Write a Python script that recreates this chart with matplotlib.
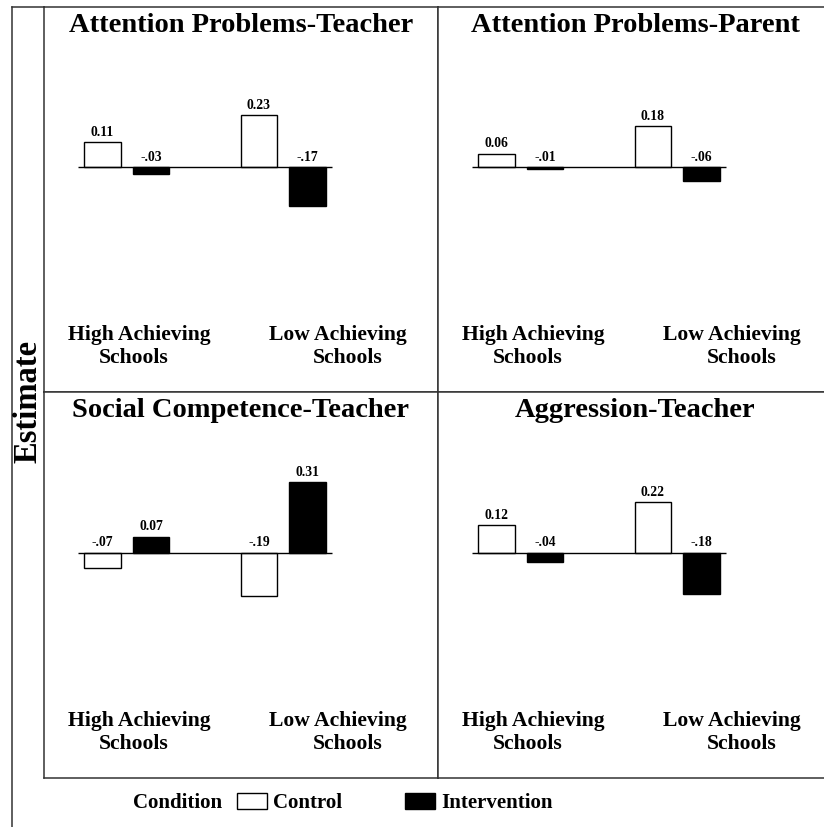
"""
Four-panel bar chart: estimates by condition for high/low achieving schools.
"""
import matplotlib
matplotlib.use("Agg")
import matplotlib.pyplot as plt
from matplotlib.lines import Line2D
from matplotlib.patches import Patch
import numpy as np

plt.rcParams["font.family"] = ["Liberation Serif", "DejaVu Serif"]
plt.rcParams["font.weight"] = "bold"

TITLES = ["Attention Problems-Teacher", "Attention Problems-Parent",
          "Social Competence-Teacher", "Aggression-Teacher"]
GROUPS = ["High Achieving\nSchools", "Low Achieving\nSchools"]
CONTROL = [[0.11, 0.23], [0.06, 0.18], [-0.07, -0.19], [0.12, 0.22]]
INTERVENTION = [[-0.03, -0.17], [-0.01, -0.06], [0.07, 0.31], [-0.04, -0.18]]

W, H = 824, 827
EDGE = "#333333"


def fmt(v):
    s = f"{v:.2f}"
    return s.replace("-0.", "-.")


def panel(ax, title, ctrl, intv):
    x = np.arange(len(GROUPS))
    off, bw = 0.155, 0.233
    ax.bar(x - off, ctrl, bw, color="white", edgecolor="black", lw=1.0, zorder=3)
    ax.bar(x + off, intv, bw, color="black", edgecolor="black", lw=1.0, zorder=3)
    ax.hlines(0, x[0] - 0.31, x[-1] + 0.31, color="black", lw=1.0, zorder=4)
    for xs, vals in ((x - off, ctrl), (x + off, intv)):
        for xi, v in zip(xs, vals):
            ax.annotate(fmt(v), (xi, max(v, 0)), xytext=(0, 4.6), textcoords="offset points",
                        ha="center", va="baseline", fontsize=9.8, fontweight="bold")
    ax.set_xlim(-0.529, 1.989)
    ax.set_ylim(-0.99, 0.705)
    ax.set_xticks([]); ax.set_yticks([])
    for s in ax.spines.values():
        s.set_color(EDGE); s.set_linewidth(1.1)
    ax.text(0.5, 0.935, title, transform=ax.transAxes, ha="center", va="baseline",
            fontsize=20.5, fontweight="bold")
    # group labels, line by line (second line sits a little off-centre)
    pos = [((0.241, 0.135), (0.228, 0.076)), ((0.746, 0.135), (0.772, 0.076))]
    for g, ((x1, y1), (x2, y2)) in zip(GROUPS, pos):
        l1, l2 = g.split("\n")
        ax.text(x1, y1, l1, transform=ax.transAxes, ha="center", va="baseline",
                fontsize=15.6, fontweight="bold")
        ax.text(x2, y2, l2, transform=ax.transAxes, ha="center", va="baseline",
                fontsize=15.6, fontweight="bold")


fig = plt.figure(figsize=(W / 100, H / 100), dpi=100)
boxes = [(44, 7, 385), (438, 7, 385), (44, 392, 386), (438, 392, 386)]
for (l, t, h), title, c, iv in zip(boxes, TITLES, CONTROL, INTERVENTION):
    ax = fig.add_axes([l / W, 1 - (t + h) / H, 394 / W, h / H])
    panel(ax, title, c, iv)

# outer frame pieces
fig.add_artist(Line2D([12 / W, 12 / W], [0, 1 - 7 / H], color=EDGE, lw=1.1))
fig.add_artist(Line2D([12 / W, 44 / W], [1 - 7 / H, 1 - 7 / H], color=EDGE, lw=1.1))

fig.text(28 / W, 1 - 401 / H, "Estimate", rotation=90, ha="center", va="center",
         fontsize=23.5, fontweight="bold")

fig.text(133 / W, 1 - 803 / H, "Condition", ha="left", va="center",
         fontsize=15, fontweight="bold")
handles = [Patch(facecolor="white", edgecolor="black", lw=1.0),
           Patch(facecolor="black", edgecolor="black", lw=1.0)]
fig.legend(handles, ["Control", "Intervention"], loc="center left",
           bbox_to_anchor=(237 / W, 1 - 803 / H), ncol=2, frameon=False,
           prop={"size": 15, "weight": "bold"}, borderpad=0, borderaxespad=0,
           handlelength=1.44, handleheight=0.77, handletextpad=0.3, columnspacing=3.0)

fig.savefig("out.png", dpi=100)
